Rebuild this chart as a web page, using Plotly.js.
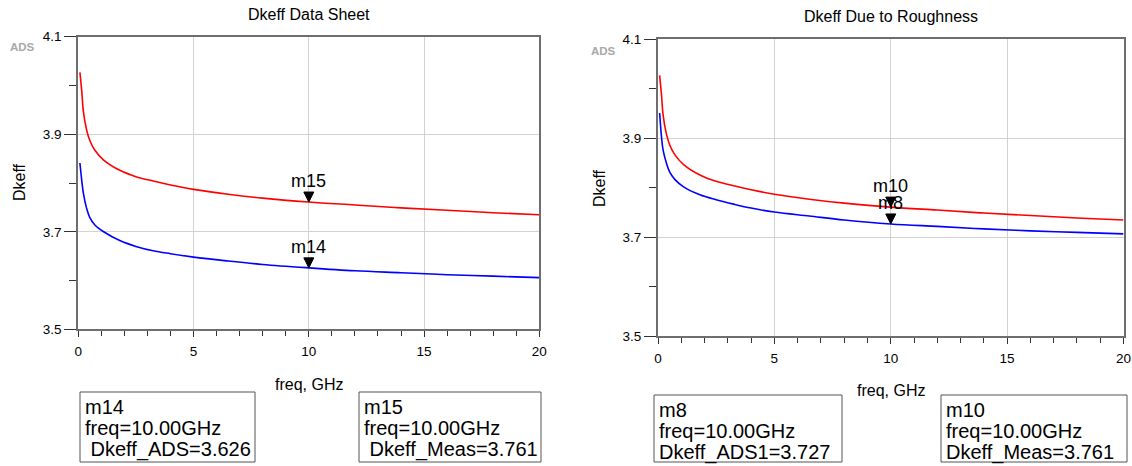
<!DOCTYPE html>
<html>
<head>
<meta charset="utf-8">
<script src="https://cdn.plot.ly/plotly-3.0.1.min.js"></script>
<style>html,body{margin:0;padding:0;background:#fff;}#chart{width:1132px;height:466px;}</style>
</head>
<body>
<div id="chart"></div>
<script>
// ---- data ----
const freqGHz = [0.07, 0.15, 0.22, 0.36, 0.5, 0.72, 1.1, 1.8, 2.5, 3.25, 4, 5, 6.5, 8, 10, 12, 14, 16, 18, 20];
const dkeffMeas = [4.027, 3.988, 3.947, 3.909, 3.887, 3.867, 3.847, 3.826, 3.813, 3.804, 3.796, 3.787, 3.777, 3.769, 3.761, 3.755, 3.749, 3.744, 3.739, 3.735];
const dkeffADS = [3.841, 3.805, 3.779, 3.748, 3.729, 3.714, 3.700, 3.682, 3.670, 3.661, 3.655, 3.648, 3.640, 3.633, 3.626, 3.620, 3.616, 3.612, 3.609, 3.606];
const dkeffADS1 = [3.951, 3.903, 3.876, 3.850, 3.832, 3.817, 3.802, 3.786, 3.776, 3.767, 3.759, 3.751, 3.743, 3.735, 3.727, 3.722, 3.717, 3.713, 3.710, 3.707];

const xTicks = [0, 5, 10, 15, 20];
const yTicks = [3.5, 3.7, 3.9, 4.1];

const markerFreq = 10;
const leftMarkerNames = ["m15", "m14"];
const leftMarkerValues = [3.761, 3.626];
const rightMarkerNames = ["m10", "m8"];
const rightMarkerValues = [3.761, 3.727];

const leftTitle = "Dkeff Data Sheet";
const rightTitle = "Dkeff Due to Roughness";
const xTitle = "freq, GHz";
const yTitle = "Dkeff";

const readouts = [
  {lines: ["m14", "freq=10.00GHz", " Dkeff_ADS=3.626"]},
  {lines: ["m15", "freq=10.00GHz", " Dkeff_Meas=3.761"]},
  {lines: ["m8", "freq=10.00GHz", "Dkeff_ADS1=3.727"]},
  {lines: ["m10", "freq=10.00GHz", "Dkeff_Meas=3.761"]}
];

// ---- layout helpers ----
const W = 1132, H = 466;
const px = x => x / W;
const py = y => 1 - y / H;
const FONT = "Liberation Sans, Arial, sans-serif";

const lineStyle = c => ({color: c, width: 1.6, shape: "spline", smoothing: 1});
const traces = [
  {x: freqGHz, y: dkeffMeas, xaxis: "x", yaxis: "y", mode: "lines", line: lineStyle("#ff0000"), hoverinfo: "skip"},
  {x: freqGHz, y: dkeffADS, xaxis: "x", yaxis: "y", mode: "lines", line: lineStyle("#0000ff"), hoverinfo: "skip"},
  {x: freqGHz, y: dkeffMeas, xaxis: "x2", yaxis: "y2", mode: "lines", line: lineStyle("#ff0000"), hoverinfo: "skip"},
  {x: freqGHz, y: dkeffADS1, xaxis: "x2", yaxis: "y2", mode: "lines", line: lineStyle("#0000ff"), hoverinfo: "skip"}
];

function xAxis(domain, anchor) {
  return {
    domain: domain, anchor: anchor, range: [0, 20],
    tickvals: xTicks, ticktext: xTicks.map(String),
    ticks: "outside", ticklen: 6, tickwidth: 1, tickcolor: "#333",
    minor: {ticks: "outside", ticklen: 5, tickwidth: 1, tickcolor: "#333", dtick: 1, tick0: 0, showgrid: false},
    showgrid: true, gridcolor: "#d2d2d2", gridwidth: 1,
    showline: true, linecolor: "#6e6e6e", linewidth: 2, mirror: true,
    zeroline: false, tickfont: {family: FONT, size: 13.5, color: "#000"},
    ticklabelstandoff: 2, fixedrange: true
  };
}
function yAxis(domain, anchor) {
  return {
    domain: domain, anchor: anchor, range: [3.5, 4.1],
    tickvals: yTicks, ticktext: yTicks.map(v => v.toFixed(1)),
    ticks: "outside", ticklen: 12, tickwidth: 1, tickcolor: "#333",
    minor: {ticks: "outside", ticklen: 7, tickwidth: 1, tickcolor: "#333", dtick: 0.1, tick0: 3.5, showgrid: false},
    showgrid: true, gridcolor: "#d2d2d2", gridwidth: 1,
    showline: true, linecolor: "#6e6e6e", linewidth: 2, mirror: true,
    zeroline: false, tickfont: {family: FONT, size: 13.5, color: "#000"},
    fixedrange: true
  };
}

const annotations = [];
const shapes = [];

function txt(x, y, text, size, opts) {
  annotations.push(Object.assign({
    xref: "paper", yref: "paper", x: px(x), y: py(y), text: text, showarrow: false,
    xanchor: "center", yanchor: "middle", font: {family: FONT, size: size, color: "#000"}
  }, opts || {}));
}

// titles
txt(308.8, 14, leftTitle, 16);
txt(890.8, 17, rightTitle, 16);
// y titles
txt(19, 182, yTitle, 16, {textangle: -90});
txt(600, 188, yTitle, 16, {textangle: -90});
// x titles
txt(308.8, 384, xTitle, 16);
txt(890.8, 390, xTitle, 16);
// ADS logos
txt(22, 47, "<b>ADS</b>", 11.5, {font: {family: FONT, size: 11.5, color: "#a8a8a8"}});
txt(603, 51, "<b>ADS</b>", 11.5, {font: {family: FONT, size: 11.5, color: "#a8a8a8"}});

// markers (triangles with the tip on the curve) and their labels
function addMarkers(names, values, xref, yref) {
  names.forEach((n, i) => {
    shapes.push({type: "path", xref: xref, yref: yref, xsizemode: "pixel", ysizemode: "pixel",
      xanchor: markerFreq, yanchor: values[i], path: "M-5,10 L5,10 L0,0 Z",
      fillcolor: "#000", line: {color: "#000", width: 1}});
    annotations.push({xref: xref, yref: yref, x: markerFreq, y: values[i], text: n, showarrow: false,
      xanchor: "center", yanchor: "middle", yshift: 21, font: {family: FONT, size: 18, color: "#000"}});
  });
}
addMarkers(leftMarkerNames, leftMarkerValues, "x", "y");
addMarkers(rightMarkerNames, rightMarkerValues, "x2", "y2");

// readout boxes
const boxes = [
  {x0: 80, x1: 255, y0: 392, y1: 462, tx: 83, ty: [407, 428, 449]},
  {x0: 359, x1: 541, y0: 392, y1: 462, tx: 362, ty: [407, 428, 449]},
  {x0: 654, x1: 842, y0: 395, y1: 462, tx: 657, ty: [410, 431, 452]},
  {x0: 941, x1: 1127, y0: 395, y1: 462, tx: 944, ty: [410, 431, 452]}
];
boxes.forEach((b, i) => {
  shapes.push({type: "rect", xref: "paper", yref: "paper", x0: px(b.x0), x1: px(b.x1), y0: py(b.y1), y1: py(b.y0),
    line: {color: "#555", width: 1}, fillcolor: "rgba(0,0,0,0)"});
  readouts[i].lines.forEach((l, j) => {
    txt(b.tx, b.ty[j], l.replace(/^ /, "&nbsp;"), 20, {xanchor: "left"});
  });
});

const layout = {
  width: W, height: H,
  margin: {l: 0, r: 0, t: 0, b: 0},
  paper_bgcolor: "#fff", plot_bgcolor: "#fff",
  showlegend: false,
  xaxis: xAxis([px(78.3), px(539.3)], "y"),
  yaxis: yAxis([py(329.3), py(36.7)], "x"),
  xaxis2: xAxis([px(658), px(1123.5)], "y2"),
  yaxis2: yAxis([py(336.3), py(39.3)], "x2"),
  annotations: annotations,
  shapes: shapes
};

Plotly.newPlot("chart", traces, layout, {staticPlot: true, displayModeBar: false});
</script>
</body>
</html>
